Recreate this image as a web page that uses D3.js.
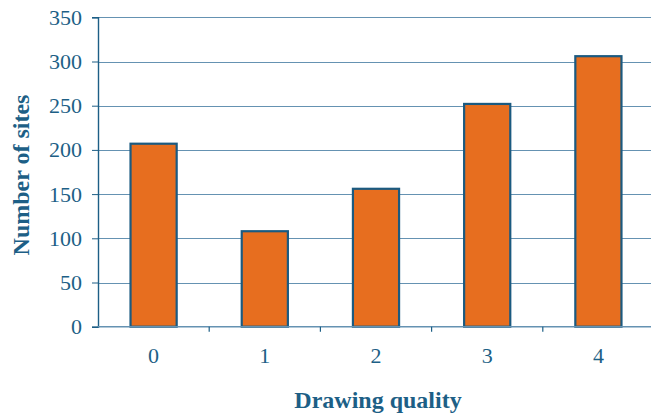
<!DOCTYPE html>
<html>
<head>
<meta charset="utf-8">
<script src="https://cdn.jsdelivr.net/npm/d3@7"></script>
<style>
  html, body { margin: 0; padding: 0; background: #ffffff; }
  svg { display: block; }
  text { font-family: "Liberation Serif", "DejaVu Serif", serif; }
</style>
</head>
<body>
<svg id="chart" width="651" height="418"></svg>
<script>
// Number of sites by drawing-quality score
const categories = ["0", "1", "2", "3", "4"];
const siteCounts = [207, 108, 156, 252, 306];
const yTicks = [0, 50, 100, 150, 200, 250, 300, 350];

const W = 651, H = 418;
const margin = { left: 98, right: -3, top: 17.3, bottom: 91.3 };
const ink = "#1d5f86";
const serif = "'Liberation Serif', 'Times New Roman', serif";

const svg = d3.select("#chart");

const x = d3.scaleBand()
  .domain(categories)
  .range([margin.left, W - margin.right])
  .paddingInner(0.585)
  .paddingOuter(0.2925);

const y = d3.scaleLinear()
  .domain([0, 350])
  .range([H - margin.bottom, margin.top]);

// horizontal gridlines
svg.append("g")
  .selectAll("line")
  .data(yTicks.filter(d => d > 0))
  .join("line")
  .attr("x1", margin.left)
  .attr("x2", W)
  .attr("y1", d => Math.round(y(d)) + 0.5)
  .attr("y2", d => Math.round(y(d)) + 0.5)
  .attr("stroke", "#6592b2")
  .attr("stroke-width", 1.2);

// y axis
const yAxis = svg.append("g")
  .attr("transform", `translate(${margin.left},0)`)
  .call(d3.axisLeft(y).tickValues(yTicks).tickSize(6).tickPadding(10));
yAxis.attr("font-family", null).attr("font-size", null);
yAxis.select(".domain").attr("stroke", ink).attr("stroke-width", 1.4);
yAxis.selectAll(".tick line").attr("stroke", ink).attr("stroke-width", 1);
yAxis.selectAll(".tick text")
  .attr("fill", ink)
  .style("font-family", serif)
  .style("font-size", "22px");

// bars
svg.append("g")
  .selectAll("rect")
  .data(categories.map((c, i) => ({ c, v: siteCounts[i] })))
  .join("rect")
  .attr("x", d => x(d.c))
  .attr("y", d => y(d.v))
  .attr("width", x.bandwidth())
  .attr("height", d => y(0) - y(d.v))
  .attr("fill", "#e76e1f")
  .attr("stroke", "#1b5a80")
  .attr("stroke-width", 2.2);

// x axis baseline and category-boundary ticks
const step = x.step();
const xg = svg.append("g");
xg.append("line")
  .attr("x1", margin.left).attr("x2", W)
  .attr("y1", y(0)).attr("y2", y(0))
  .attr("stroke", "#6592b2").attr("stroke-width", 1.4);
xg.selectAll("line.tick")
  .data(categories.slice(1))
  .join("line")
  .attr("class", "tick")
  .attr("x1", d => x(d) - (step - x.bandwidth()) / 2)
  .attr("x2", d => x(d) - (step - x.bandwidth()) / 2)
  .attr("y1", y(0))
  .attr("y2", y(0) + 5)
  .attr("stroke", ink)
  .attr("stroke-width", 1.2);
xg.selectAll("text")
  .data(categories)
  .join("text")
  .attr("x", d => x(d) + x.bandwidth() / 2)
  .attr("y", 363)
  .attr("text-anchor", "middle")
  .attr("fill", ink)
  .style("font-family", serif)
  .style("font-size", "22px")
  .text(d => d);

// axis titles
svg.append("text")
  .attr("x", 378)
  .attr("y", 408)
  .attr("text-anchor", "middle")
  .attr("fill", ink)
  .style("font-family", serif)
  .style("font-size", "24px")
  .style("font-weight", "bold")
  .text("Drawing quality");

svg.append("text")
  .attr("transform", "translate(29,175) rotate(-90)")
  .attr("text-anchor", "middle")
  .attr("fill", ink)
  .style("font-family", serif)
  .style("font-size", "24px")
  .style("font-weight", "bold")
  .text("Number of sites");
</script>
</body>
</html>
